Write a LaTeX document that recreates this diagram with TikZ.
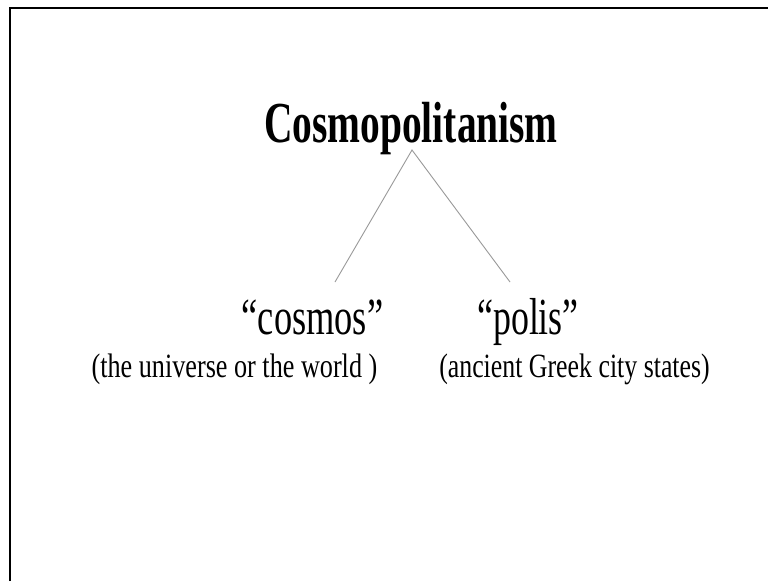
\documentclass[tikz,border=0pt]{standalone}
\usepackage{fontspec}
\setmainfont{Liberation Serif}
\usepackage{graphicx}
\begin{document}
\begin{tikzpicture}[x=1pt,y=-1pt,
  lbl/.style={anchor=base,inner sep=0pt,outer sep=0pt},
  branch/.style={draw=gray!80,line width=0.9pt},
  frame/.style={line width=2.6pt,black}]
\useasboundingbox (0,0) rectangle (768,581);
\fill[white] (0,0) rectangle (768,581);
\draw[frame] (10,581) -- (10,8) -- (768,8);
\node[lbl] (title) at (411,142) {\scalebox{0.68}[1]{\fontsize{58}{60}\selectfont\bfseries Cosmopolitanism}};
\node[lbl] (cosmos) at (312.5,334) {\scalebox{0.70}[1]{\fontsize{52}{54}\selectfont “cosmos”}};
\node[lbl] (polis) at (528,334) {\scalebox{0.69}[1]{\fontsize{52}{54}\selectfont “polis”}};
\node[lbl] (sub1) at (234.5,377) {\scalebox{0.77}[1]{\fontsize{34}{36}\selectfont (the universe or the world )}};
\node[lbl] (sub2) at (574.5,377) {\scalebox{0.76}[1]{\fontsize{34}{36}\selectfont (ancient Greek city states)}};
\coordinate (apex) at (412,150);
\coordinate (lend) at (335,282);
\coordinate (rend) at (510,282);
\draw[branch] (lend) -- (apex) -- (rend);
\end{tikzpicture}
\end{document}
